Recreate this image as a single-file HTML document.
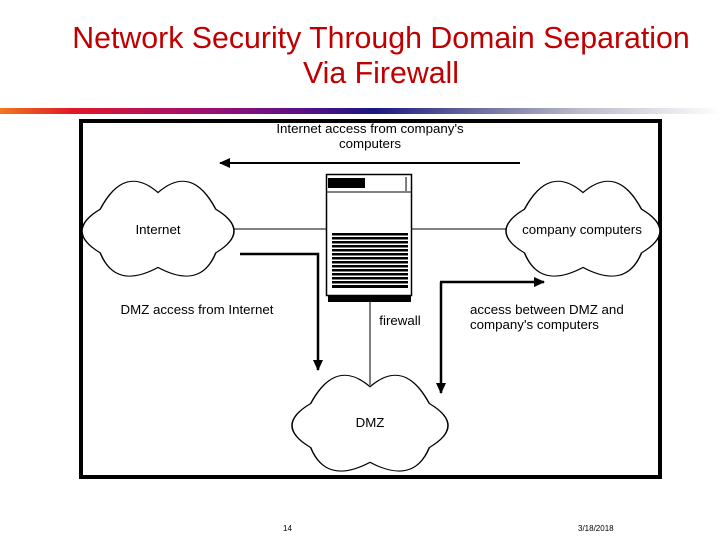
<!DOCTYPE html>
<html><head><meta charset="utf-8"><style>
html,body{margin:0;padding:0;background:#fff;}
body{width:720px;height:540px;position:relative;overflow:hidden;font-family:"Liberation Sans",sans-serif;}
.t{position:absolute;left:40px;width:682px;text-align:center;color:#c00000;font-size:30.3px;line-height:34px;}
</style></head><body>
<div class="t" style="top:22px;">Network Security Through Domain Separation</div>
<div class="t" style="top:57px;">Via Firewall</div>
<div style="position:absolute;left:0;top:108px;width:720px;height:6px;background:linear-gradient(90deg,#f07820 0%,#e01828 10%,#a01070 28%,#5a1088 42%,#1a1880 52%,#6a6aa0 66%,#b8b8c8 80%,#ffffff 100%);"></div>
<svg width="720" height="540" style="position:absolute;left:0;top:0" font-family="Liberation Sans, sans-serif">
<defs>
<path id="cl" d="M12,30 Q28,-14 50,14 Q72,-14 88,30 Q112,51 88,72 Q78,108 50,86 Q22,108 12,72 Q-12,51 12,30 Z"/>
<marker id="ah" markerWidth="11" markerHeight="10" refX="10" refY="5" orient="auto" markerUnits="userSpaceOnUse"><path d="M0,0 L11,5 L0,10 Z" fill="#000"/></marker>
</defs>
<rect x="81" y="121" width="579" height="356" fill="#fff" stroke="#000" stroke-width="4"/>
<line x1="520" y1="163" x2="220" y2="163" stroke="#000" stroke-width="2" marker-end="url(#ah)"/>
<line x1="230" y1="229" x2="326" y2="229" stroke="#000" stroke-width="1"/>
<line x1="412" y1="229" x2="510" y2="229" stroke="#000" stroke-width="1"/>
<polyline points="240,254 318,254 318,370" fill="none" stroke="#000" stroke-width="2.5" marker-end="url(#ah)"/>
<line x1="370" y1="302" x2="370" y2="385" stroke="#000" stroke-width="1"/>
<line x1="441" y1="282" x2="441" y2="393" stroke="#000" stroke-width="2.5" marker-end="url(#ah)"/>
<line x1="440" y1="282" x2="544" y2="282" stroke="#000" stroke-width="2.5" marker-end="url(#ah)"/>
<g transform="translate(82,178) scale(1.52,1.04)"><use href="#cl" fill="#fff" stroke="#000" stroke-width="1" vector-effect="non-scaling-stroke"/></g>
<g transform="translate(506,178) scale(1.54,1.04)"><use href="#cl" fill="#fff" stroke="#000" stroke-width="1" vector-effect="non-scaling-stroke"/></g>
<g transform="translate(292,372) scale(1.56,1.05)"><use href="#cl" fill="#fff" stroke="#000" stroke-width="1" vector-effect="non-scaling-stroke"/></g>
<rect x="326.5" y="174.5" width="85" height="121" fill="#fff" stroke="#000" stroke-width="1.5"/>
<rect x="328" y="178" width="37" height="10" fill="#000"/>
<line x1="326" y1="192" x2="412" y2="192" stroke="#000" stroke-width="1"/>
<line x1="406" y1="177" x2="406" y2="191" stroke="#000" stroke-width="1"/>
<g fill="#000">
<rect x="332" y="233" width="76" height="2.5"/><rect x="332" y="237" width="76" height="2.5"/><rect x="332" y="241" width="76" height="2.5"/><rect x="332" y="245" width="76" height="2.5"/><rect x="332" y="249" width="76" height="2.5"/><rect x="332" y="253" width="76" height="2.5"/><rect x="332" y="257" width="76" height="2.5"/><rect x="332" y="261" width="76" height="2.5"/><rect x="332" y="265" width="76" height="2.5"/><rect x="332" y="269" width="76" height="2.5"/><rect x="332" y="273" width="76" height="2.5"/><rect x="332" y="277" width="76" height="2.5"/><rect x="332" y="281" width="76" height="2.5"/><rect x="332" y="285" width="76" height="3"/>
<rect x="328" y="295" width="83" height="7"/>
</g>
<g font-size="13.3" fill="#000" text-anchor="middle">
<text x="370" y="133">Internet access from company's</text>
<text x="370" y="148">computers</text>
<text x="158" y="234">Internet</text>
<text x="582" y="234">company computers</text>
<text x="197" y="314">DMZ access from Internet</text>
<text x="400" y="325">firewall</text>
<text x="370" y="427">DMZ</text>
</g>
<g font-size="13.3" fill="#000">
<text x="470" y="314">access between DMZ and</text>
<text x="470" y="329">company's computers</text>
</g>
<g font-size="8" fill="#000">
<text x="283" y="531">14</text>
<text x="578" y="531">3/18/2018</text>
</g>
</svg>
</body></html>
